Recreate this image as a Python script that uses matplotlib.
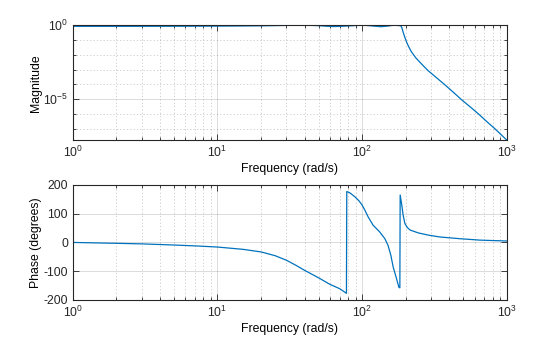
import numpy as np
import matplotlib
matplotlib.use("Agg")
import matplotlib.pyplot as plt
from matplotlib.ticker import FixedLocator, LogLocator, NullFormatter, LogFormatterSciNotation

plt.rcParams["font.family"] = ["Liberation Sans", "DejaVu Sans"]
plt.rcParams["mathtext.fontset"] = "custom"
plt.rcParams["mathtext.rm"] = "Liberation Sans"
plt.rcParams["font.size"] = 8.8
plt.rcParams["axes.unicode_minus"] = False

# magnitude response (rad/s, linear gain)
mag_freq = [1, 2, 5, 10, 15, 20, 25, 30, 35, 40, 45, 50, 57, 63, 70, 80, 90, 100,
            110, 120, 135, 150, 160, 168, 176, 181, 185, 188, 192, 197, 203,
            210, 220, 235, 251, 270, 286, 320, 373, 430, 487, 560, 635, 730,
            829, 910, 1000]
mag_val = [0.85, 0.85, 0.86, 0.88, 0.90, 0.92, 0.95, 0.98, 1.0, 1.0, 0.98, 0.94,
           0.86, 0.82, 0.84, 0.90, 0.96, 1.0, 0.96, 0.88, 0.80, 0.88, 0.97, 1.0,
           0.97, 0.95, 0.92, 0.70, 0.35, 0.16, 0.072,
           0.035, 0.0151, 0.0063, 0.00316, 0.0015, 0.00085, 0.00034, 9.5e-05,
           2.8e-05, 9.3e-06, 3.0e-06, 1.05e-06, 3.0e-07, 1.0e-07, 4.2e-08,
           1.74e-08]

# phase response (degrees, wrapped)
ph_freq = [1, 2, 3, 5, 7, 10, 15, 20, 25, 30, 35, 40, 50, 60, 70, 77.9,
           78.3, 82, 89, 95, 100, 105, 110, 119, 132, 143.6, 151, 158, 164,
           172, 179.5, 182.3, 183.2, 188, 192, 197.5, 205, 215, 245, 290,
           345, 474, 653, 1000]
ph_val = [0, -3, -5, -9, -12, -16, -24, -33, -46, -62, -80, -97, -123, -146,
          -161, -177, 177, 173, 159, 145, 130, 110, 89, 60, 37, 13, -10, -45,
          -86, -122, -156, -158, 165, 130, 95, 66, 52, 43, 33, 25, 19, 13, 8, 5]

line_color = "#0072BD"
axis_color = "#262626"


def style_axes(ax):
    for s in ax.spines.values():
        s.set_color(axis_color)
        s.set_linewidth(0.8)
    ax.tick_params(which="both", direction="in", top=True, right=True,
                   colors=axis_color, width=0.6)
    ax.tick_params(which="major", length=4)
    ax.tick_params(which="minor", length=2)
    ax.grid(True, which="major", color=axis_color, alpha=0.18, linewidth=0.6,
            linestyle="-")
    ax.grid(True, which="minor", color=axis_color, alpha=0.25, linewidth=0.6,
            linestyle=(0, (1.5, 2.5)))
    ax.set_axisbelow(True)


fig = plt.figure(figsize=(5.6, 3.37), dpi=100)
ax1 = fig.add_axes([0.13, 0.5838, 0.775, 0.3412])
ax2 = fig.add_axes([0.13, 0.11, 0.775, 0.3412])

ax1.loglog(mag_freq, mag_val, color=line_color, linewidth=0.9)
ax1.set_xlim(1, 1000)
ax1.set_ylim(10 ** -7.77, 1)
ax1.yaxis.set_major_locator(FixedLocator([1e-5, 1e0]))
ax1.yaxis.set_major_formatter(LogFormatterSciNotation())
ax1.yaxis.set_minor_locator(FixedLocator([10.0 ** k for k in range(-7, 0) if k != -5]))
ax1.yaxis.set_minor_formatter(NullFormatter())
ax1.set_xlabel("Frequency (rad/s)", labelpad=2)
ax1.set_ylabel("Magnitude")

ax2.semilogx(ph_freq, ph_val, color=line_color, linewidth=0.9)
ax2.set_xlim(1, 1000)
ax2.set_ylim(-200, 200)
ax2.set_yticks([-200, -100, 0, 100, 200])
ax2.set_xlabel("Frequency (rad/s)", labelpad=2)
ax2.set_ylabel("Phase (degrees)")

for ax in (ax1, ax2):
    ax.xaxis.set_major_locator(LogLocator(base=10, numticks=10))
    ax.xaxis.set_minor_locator(LogLocator(base=10, subs=np.arange(2, 10), numticks=20))
    ax.xaxis.set_minor_formatter(NullFormatter())
    ax.yaxis.set_label_coords(-0.070, 0.5)
    style_axes(ax)

ax2.grid(False, which="minor", axis="y")

fig.savefig("out.png", dpi=100)
